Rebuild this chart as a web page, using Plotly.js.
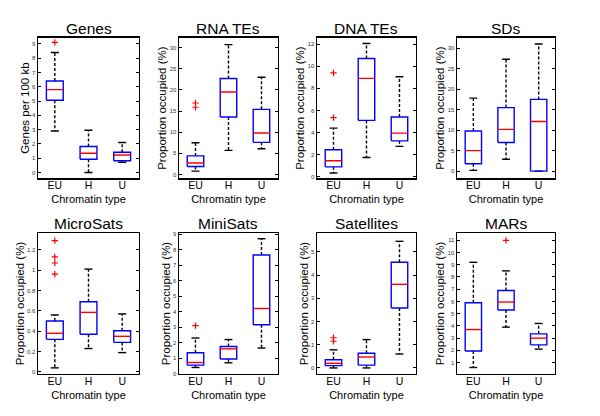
<!DOCTYPE html>
<html>
<head>
<meta charset="utf-8">
<script src="https://cdn.plot.ly/plotly-3.0.1.min.js"></script>
<style>html,body{margin:0;padding:0;background:#fff;}#chart{width:600px;height:416px;}</style>
</head>
<body>
<div id="chart"></div>
<script>
// ---- Data ----
const categories = ['EU', 'H', 'U'];
const panelTitles = ['Genes', 'RNA TEs', 'DNA TEs', 'SDs', 'MicroSats', 'MiniSats', 'Satellites', 'MARs'];
const yTitles = ['Genes per 100 kb', 'Proportion occupied (%)', 'Proportion occupied (%)', 'Proportion occupied (%)',
                 'Proportion occupied (%)', 'Proportion occupied (%)', 'Proportion occupied (%)', 'Proportion occupied (%)'];
const xTitle = 'Chromatin type';

// per panel: [EU, H, U]
const lowerWhisker = [[2.9, 0.0, 0.72], [0.8, 5.7, 6.1], [0.35, 1.75, 2.75], [0.2, 2.9, 0.0],
                      [0.04, 0.23, 0.19], [0.4, 0.7, 1.65], [0.0, 0.0, 0.6], [0.6, 3.9, 2.1]];
const quartile1 = [[5.05, 0.92, 0.82], [1.9, 13.6, 7.6], [0.9, 5.1, 3.25], [1.8, 7.0, 0.0],
                   [0.32, 0.37, 0.29], [0.55, 0.95, 3.15], [0.1, 0.12, 2.58], [1.95, 5.3, 2.45]];
const medians = [[5.8, 1.35, 1.22], [2.7, 19.5, 9.8], [1.45, 8.9, 3.95], [5.0, 10.2, 12.1],
                 [0.38, 0.585, 0.35], [0.72, 1.6, 4.2], [0.2, 0.47, 3.6], [3.7, 5.95, 3.0]];
const quartile3 = [[6.4, 1.82, 1.42], [4.4, 22.7, 15.4], [2.45, 10.7, 5.4], [9.8, 15.5, 17.5],
                   [0.50, 0.69, 0.405], [1.35, 1.75, 7.65], [0.35, 0.63, 4.55], [5.9, 6.9, 3.35]];
const upperWhisker = [[8.4, 2.95, 2.1], [7.5, 30.7, 23.0], [4.4, 12.05, 9.05], [17.8, 27.3, 31.0],
                      [0.56, 1.01, 0.57], [2.3, 2.2, 8.7], [0.78, 1.22, 5.45], [9.2, 8.5, 4.2]];
const outliers = [[[9.1], [], []], [[15.9, 16.9], [], []], [[5.35, 9.4], [], []], [[], [], []],
                  [[0.96, 1.07, 1.13, 1.29], [], []], [[3.1], [], []], [[1.15, 1.3], [], []], [[], [11.0], []]];
const yTickValues = [[0,1,2,3,4,5,6,7,8,9], [0,5,10,15,20,25,30], [0,2,4,6,8,10,12], [0,5,10,15,20,25,30],
                     [0,0.2,0.4,0.6,0.8,1,1.2], [0,1,2,3,4,5,6,7,8,9], [0,1,2,3,4,5], [1,2,3,4,5,6,7,8,9,10,11]];

// ---- Layout / style ----
const yRanges = [[-0.42, 9.42], [-0.94, 32.3], [-0.15, 12.56], [-1.78, 32.5],
                 [-0.02, 1.365], [-0.02, 9.07], [-0.26, 5.81], [0.07, 11.6]];
const colDomains = [[0.0633, 0.2317], [0.2983, 0.4633], [0.5283, 0.6933], [0.7617, 0.925]];
const rowDomains = [[0.571, 0.909], [0.101, 0.440]];
const boxHalf = 0.25, capHalf = 0.12;
const FONT = 'Liberation Sans, Arial, Helvetica, sans-serif';

const traces = [];
const layout = {
  width: 600, height: 416, margin: {l: 0, r: 0, t: 0, b: 0},
  paper_bgcolor: '#fff', plot_bgcolor: '#fff', showlegend: false,
  font: {family: FONT, color: '#000'},
  annotations: []
};

panelTitles.forEach((title, p) => {
  const n = p + 1;
  const xa = 'x' + (n === 1 ? '' : n), ya = 'y' + (n === 1 ? '' : n);
  const col = p % 4, row = Math.floor(p / 4);
  const wx = [], wy = [], cx = [], cy = [], bx = [], by = [], mx = [], my = [], ox = [], oy = [];
  categories.forEach((c, j) => {
    const x = j + 1;
    wx.push(x, x, null, x, x, null);
    wy.push(quartile3[p][j], upperWhisker[p][j], null, quartile1[p][j], lowerWhisker[p][j], null);
    cx.push(x - capHalf, x + capHalf, null, x - capHalf, x + capHalf, null);
    cy.push(upperWhisker[p][j], upperWhisker[p][j], null, lowerWhisker[p][j], lowerWhisker[p][j], null);
    bx.push(x - boxHalf, x + boxHalf, x + boxHalf, x - boxHalf, x - boxHalf, null);
    by.push(quartile1[p][j], quartile1[p][j], quartile3[p][j], quartile3[p][j], quartile1[p][j], null);
    mx.push(x - boxHalf, x + boxHalf, null);
    my.push(medians[p][j], medians[p][j], null);
    outliers[p][j].forEach(v => { ox.push(x); oy.push(v); });
  });
  const common = {type: 'scatter', xaxis: xa, yaxis: ya, hoverinfo: 'skip', cliponaxis: false};
  traces.push(Object.assign({}, common, {x: wx, y: wy, mode: 'lines', line: {color: '#000', width: 1.4, dash: '3px,2px'}}));
  traces.push(Object.assign({}, common, {x: cx, y: cy, mode: 'lines', line: {color: '#000', width: 1.4}}));
  traces.push(Object.assign({}, common, {x: bx, y: by, mode: 'lines', line: {color: '#0000ff', width: 1.4}}));
  traces.push(Object.assign({}, common, {x: mx, y: my, mode: 'lines', line: {color: '#ff0000', width: 1.4}}));
  traces.push(Object.assign({}, common, {x: ox, y: oy, mode: 'markers',
    marker: {symbol: 'cross-thin', size: 4.5, color: '#ff0000', line: {color: '#ff0000', width: 1.2}}}));

  layout['xaxis' + (n === 1 ? '' : n)] = {
    domain: colDomains[col], anchor: ya, range: [0.5, 3.5],
    tickvals: [1, 2, 3], ticktext: categories, ticks: '', ticklen: 0, ticklabelstandoff: -3,
    showgrid: false, zeroline: false,
    showline: true, mirror: true, linecolor: '#000', linewidth: 1.4,
    tickfont: {family: FONT, size: 10.5, color: '#000'},
    title: {text: xTitle, font: {family: FONT, size: 11, color: '#000'}, standoff: 5},
    automargin: false
  };
  layout['yaxis' + (n === 1 ? '' : n)] = {
    domain: rowDomains[row], anchor: xa, range: yRanges[p],
    tickvals: yTickValues[p], ticks: 'inside', ticklen: 3, tickcolor: '#000',
    showgrid: false, zeroline: false,
    showline: true, mirror: 'ticks', linecolor: '#000', linewidth: 1.4,
    tickfont: {family: FONT, size: 6, color: '#333'},
    title: {text: yTitles[p], font: {family: FONT, size: 11.5, color: '#000'}, standoff: 0},
    automargin: false
  };
  layout.annotations.push({
    text: title, xref: 'paper', yref: 'paper',
    x: (colDomains[col][0] + colDomains[col][1]) / 2, y: rowDomains[row][1],
    xanchor: 'center', yanchor: 'bottom', yshift: -1, showarrow: false,
    font: {family: FONT, size: 15.5, color: '#000'}
  });
});

Plotly.newPlot('chart', traces, layout, {staticPlot: true, displayModeBar: false});
</script>
</body>
</html>
